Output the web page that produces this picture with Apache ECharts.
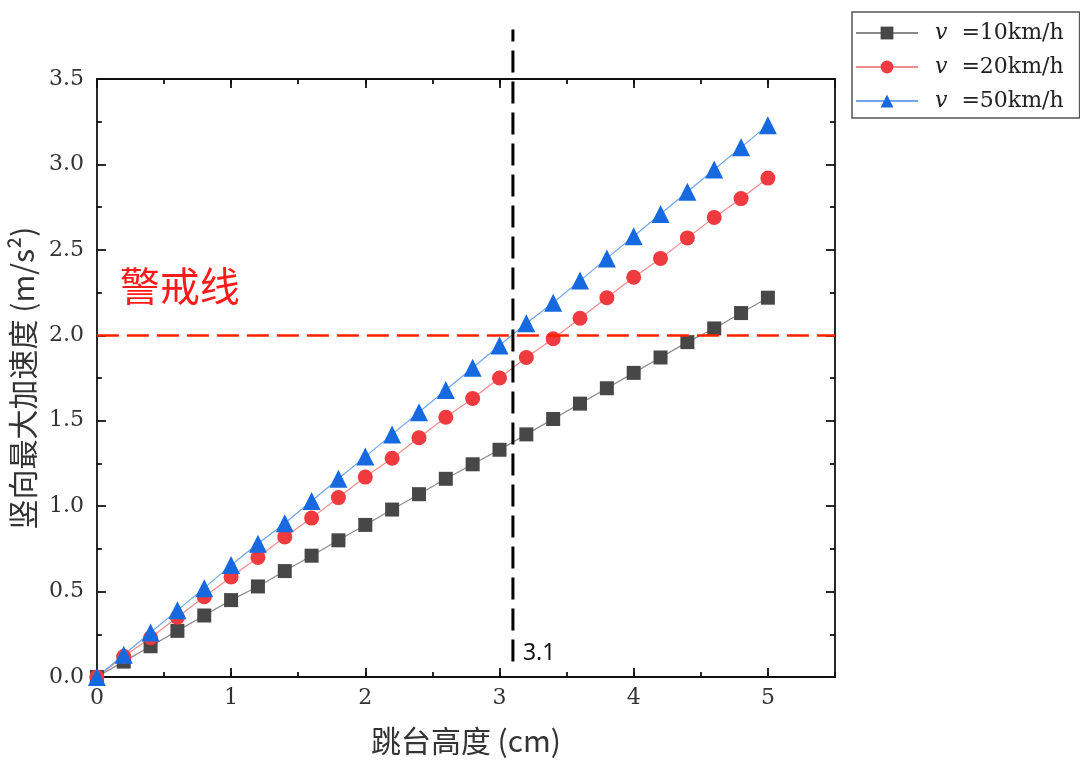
<!DOCTYPE html>
<html>
<head>
<meta charset="utf-8">
<title>竖向最大加速度</title>
<script src="https://cdn.jsdelivr.net/npm/echarts@6/dist/echarts.min.js"></script>
<style>
    html, body { margin: 0; padding: 0; background: #fff; }
    #chart { width: 1080px; height: 776px; }
</style>
</head>
<body>
<div id="chart"></div>
<script>
    // 跳台高度 (cm)
    var heights = [0, 0.2, 0.4, 0.6, 0.8, 1.0, 1.2, 1.4, 1.6, 1.8, 2.0, 2.2, 2.4,
        2.6, 2.8, 3.0, 3.2, 3.4, 3.6, 3.8, 4.0, 4.2, 4.4, 4.6, 4.8, 5.0];
    // 竖向最大加速度 (m/s2)
    var acc10 = [0, 0.09, 0.18, 0.27, 0.36, 0.45, 0.53, 0.62, 0.71, 0.80, 0.89, 0.98, 1.07,
        1.16, 1.245, 1.33, 1.42, 1.51, 1.60, 1.69, 1.78, 1.87, 1.96, 2.04, 2.13, 2.22];
    var acc20 = [0, 0.12, 0.23, 0.35, 0.47, 0.585, 0.70, 0.82, 0.93, 1.05, 1.17, 1.28, 1.40,
        1.52, 1.63, 1.75, 1.87, 1.98, 2.10, 2.22, 2.34, 2.45, 2.57, 2.69, 2.80, 2.92];
    var acc50 = [0, 0.13, 0.26, 0.39, 0.52, 0.655, 0.78, 0.90, 1.03, 1.16, 1.29, 1.42, 1.55,
        1.68, 1.81, 1.94, 2.07, 2.19, 2.32, 2.45, 2.58, 2.71, 2.84, 2.97, 3.10, 3.23];
    var seriesNames = ['v =10km/h', 'v =20km/h', 'v =50km/h'];
    var warnY = 2.0;      // 警戒线
    var refX = 3.1;       // 竖直参考线
    var refYRange = [0.09, 3.79];

    function pairs(ys) {
        return heights.map(function (x, i) { return [x, ys[i]]; });
    }

    var chart = echarts.init(document.getElementById('chart'));

    var lineBlack = { color: '#111', width: 1.8 };
    var serif = 'DejaVu Serif';
    var cjk = 'Noto Sans CJK SC';

    function xAxisDef(pos, interval, tickLen, main) {
        return {
            type: 'value', position: pos, min: 0, max: 5.5, interval: interval,
            axisLine: { show: main, onZero: false, lineStyle: lineBlack },
            axisTick: { show: true, inside: true, length: tickLen, lineStyle: lineBlack },
            axisLabel: {
                show: main && pos === 'bottom', showMaxLabel: false, margin: 10,
                fontFamily: serif, fontSize: 22, color: '#333'
            },
            splitLine: { show: false }
        };
    }

    function yAxisDef(pos) {
        return {
            type: 'value', position: pos, min: 0, max: 3.5, interval: 0.5,
            axisLine: { show: true, onZero: false, lineStyle: lineBlack },
            axisTick: { show: true, inside: true, length: 9, lineStyle: lineBlack },
            minorTick: { show: true, splitNumber: 2, length: 5, lineStyle: lineBlack },
            axisLabel: {
                show: pos === 'left', margin: 13,
                fontFamily: serif, fontSize: 22, color: '#333',
                formatter: function (v) { return v.toFixed(1); }
            },
            splitLine: { show: false }
        };
    }

    var xMain = xAxisDef('bottom', 1, 9, true);
    xMain.name = '跳台高度 (cm)';
    xMain.nameLocation = 'middle';
    xMain.nameGap = 49;
    xMain.nameTextStyle = { fontFamily: cjk, fontSize: 30, color: '#333' };

    var yMain = yAxisDef('left');
    yMain.name = '竖向最大加速度 (m/s²)';
    yMain.nameLocation = 'middle';
    yMain.nameGap = 56;
    yMain.nameTextStyle = { fontFamily: cjk, fontSize: 30, color: '#333' };

    var option = {
        animation: false,
        grid: { left: 93, right: 245, top: 79, bottom: 99, containLabel: false },
        legend: {
            orient: 'vertical', left: 852, top: 12,
            padding: [9, 16, 5, 3],
            itemGap: 10, itemWidth: 62, itemHeight: 16,
            borderColor: '#555', borderWidth: 1.5,
            data: seriesNames,
            formatter: function (n) { return '{i|v}  ' + n.slice(2); },
            textStyle: {
                fontFamily: serif, fontSize: 22, color: '#222', lineHeight: 24,
                padding: [0, 0, 0, 12],
                rich: { i: { fontFamily: serif, fontStyle: 'italic', fontSize: 22, color: '#222' } }
            }
        },
        xAxis: [
            xMain,
            xAxisDef('top', 1, 9, true),
            xAxisDef('bottom', 0.5, 5, false),
            xAxisDef('top', 0.5, 5, false)
        ],
        yAxis: [yMain, yAxisDef('right')],
        series: [
            {
                name: seriesNames[0], type: 'line', data: pairs(acc10),
                symbol: 'rect', symbolSize: 14,
                itemStyle: { color: '#474747' },
                lineStyle: { color: '#8a8a8a', width: 1.2 },
                markLine: {
                    silent: true, symbol: 'none', label: { show: false },
                    lineStyle: { color: '#ff2200', width: 2.5, type: [22, 8] },
                    data: [{ yAxis: warnY }]
                }
            },
            {
                name: seriesNames[1], type: 'line', data: pairs(acc20),
                symbol: 'circle', symbolSize: 15,
                itemStyle: { color: '#ef3b3f' },
                lineStyle: { color: '#f28b8b', width: 1.2 }
            },
            {
                name: seriesNames[2], type: 'line', data: pairs(acc50),
                symbol: 'triangle', symbolSize: 18,
                itemStyle: { color: '#1769e0' },
                lineStyle: { color: '#6ea6ee', width: 1.2 }
            },
            {
                type: 'custom', silent: true, clip: false, z: 5,
                data: [[refX, refYRange[0], refYRange[1]]],
                renderItem: function (params, api) {
                    var p0 = api.coord([api.value(0), api.value(1)]);
                    var p1 = api.coord([api.value(0), api.value(2)]);
                    var pText = api.coord([api.value(0), 0]);
                    var pWarn = api.coord([0.17, 2.29]);
                    return {
                        type: 'group',
                        children: [
                            {
                                type: 'line',
                                shape: { x1: p0[0], y1: p0[1], x2: p1[0], y2: p1[1] },
                                style: { stroke: '#000', lineWidth: 3, lineDash: [22, 9] }
                            },
                            {
                                type: 'text',
                                style: {
                                    x: pText[0] + 10, y: pText[1] - 24, text: String(refX),
                                    font: '23px "Noto Sans", sans-serif', fill: '#111',
                                    textAlign: 'left', textVerticalAlign: 'middle'
                                }
                            },
                            {
                                type: 'text',
                                style: {
                                    x: pWarn[0], y: pWarn[1], text: '警戒线',
                                    font: '40px "Noto Sans CJK SC"', fill: '#ff1a1a',
                                    textAlign: 'left', textVerticalAlign: 'middle'
                                }
                            }
                        ]
                    };
                }
            }
        ]
    };

    chart.setOption(option);
</script>
</body>
</html>
